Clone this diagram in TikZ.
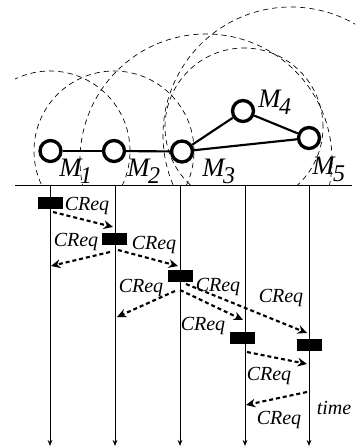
\documentclass[tikz,border=0pt]{standalone}
\usepackage{fontspec}
\setmainfont{Liberation Serif}
\usetikzlibrary{arrows.meta}
\newcommand\MyMLab[1]{\fontsize{20}{20}\selectfont\itshape M\kern-1pt\raisebox{-5.5pt}{\fontsize{18}{18}\selectfont #1}}
\begin{document}
\begin{tikzpicture}[x=0.75pt,y=-0.75pt,
  mnode/.style={circle,draw,line width=2.5pt,minimum size=15.75pt,inner sep=0pt,fill=white},
  link/.style={line width=1.6pt},
  rangecirc/.style={dash pattern=on 4pt off 3pt, line width=0.5pt},
  msg/.style={line width=1.6pt, dash pattern=on 3pt off 2.2pt, -{Stealth[length=7pt,width=6.5pt]}},
  tline/.style={line width=0.75pt, -{Stealth[length=4.5pt,width=3.5pt]}},
  blk/.style={fill=black, minimum width=18.75pt, minimum height=9pt, inner sep=0pt},
  lbl/.style={font=\fontsize{15}{15}\selectfont\itshape, inner sep=0pt},
  mlab/.style={anchor=base west, inner sep=0pt},
]
\useasboundingbox (0,0) rectangle (355,447);

% range circles
\begin{scope}
  \clip (15,0) rectangle (355,185);
  \draw[rangecirc] (50,151) circle[radius=60pt];
  \draw[rangecirc] (114,151) circle[radius=60pt];
  \draw[rangecirc] (206,160) circle[radius=94.5pt];
  \draw[rangecirc] (291,135) circle[radius=96pt];
  \draw[rangecirc] (244,127) circle[radius=59.25pt];
\end{scope}

% nodes
\node[mnode] (m1) at (50.5,151) {};
\node[mnode] (m2) at (114,151) {};
\node[mnode] (m3) at (182,151.5) {};
\node[mnode] (m4) at (243,111) {};
\node[mnode] (m5) at (309,138) {};
\draw[link] (m1) -- (m2);
\draw[link] (m2) -- (m3);
\draw[link] (m3) -- (m4);
\draw[link] (m3) -- (m5);
\draw[link] (m4) -- (m5);

\node[mlab] (lm1) at (59,176) {\MyMLab{1}};
\node[mlab] (lm2) at (127,176) {\MyMLab{2}};
\node[mlab] (lm3) at (202,176) {\MyMLab{3}};
\node[mlab] (lm4) at (258,107) {\MyMLab{4}};
\node[mlab] (lm5) at (312,174) {\MyMLab{5}};

% time axis
\coordinate (bl) at (15,185);
\coordinate (br) at (352,185);
\draw[line width=0.75pt] (bl) -- (br);
\foreach \i/\x in {1/50,2/115,3/180,4/245,5/309}{
  \coordinate (t\i) at (\x,185);
  \coordinate (b\i) at (\x,446);
  \draw[tline] (t\i) -- (b\i);
}

% boxes
\node[blk] (k1) at (50,203) {};
\node[blk] (k2) at (114.5,239) {};
\node[blk] (k3) at (180.5,276) {};
\node[blk] (k4) at (242.5,338) {};
\node[blk] (k5) at (309.5,344.5) {};

% messages
\coordinate (s1) at (53,212);   \coordinate (e1) at (113,227);
\coordinate (s2) at (110,252);  \coordinate (e2) at (51,266);
\coordinate (s3) at (118,250);  \coordinate (e3) at (178,266);
\coordinate (s4) at (175,291);  \coordinate (e4) at (117,317);
\coordinate (s5) at (180,290);  \coordinate (e5) at (243,320);
\coordinate (s6) at (186,284);  \coordinate (e6) at (307,333);
\coordinate (s7) at (247,352);  \coordinate (e7) at (307,364);
\coordinate (s8) at (307,392);  \coordinate (e8) at (246,405);
\draw[msg] (s1) -- (e1);
\draw[msg] (s2) -- (e2);
\draw[msg] (s3) -- (e3);
\draw[msg] (s4) -- (e4);
\draw[msg] (s5) -- (e5);
\draw[msg] (s6) -- (e6);
\draw[msg] (s7) -- (e7);
\draw[msg] (s8) -- (e8);

% labels
\node[lbl] (c1) at (87,206) {CReq};
\node[lbl] (c2) at (76,242) {CReq};
\node[lbl] (c3) at (154,245) {CReq};
\node[lbl] (c4) at (141,288) {CReq};
\node[lbl] (c5) at (218,287) {CReq};
\node[lbl] (c6) at (281,298) {CReq};
\node[lbl] (c7) at (203,326) {CReq};
\node[lbl] (c8) at (269,376) {CReq};
\node[lbl] (c9) at (279,420) {CReq};
\node[lbl] (tm) at (334,408) {time};
\end{tikzpicture}
\end{document}
